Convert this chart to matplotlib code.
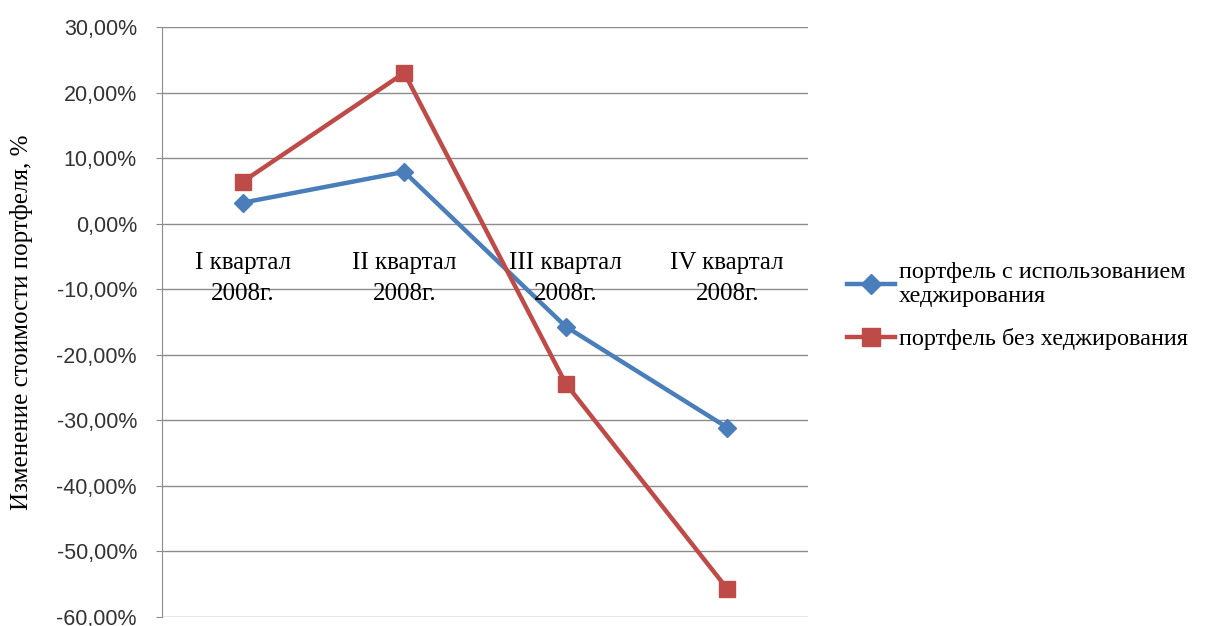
import matplotlib.pyplot as plt
from matplotlib.ticker import FuncFormatter

quarters = ["I квартал\n2008г.", "II квартал\n2008г.", "III квартал\n2008г.", "IV квартал\n2008г."]
hedged = [3.2, 7.9, -15.7, -31.1]
unhedged = [6.4, 23.0, -24.4, -55.7]
names = ["портфель с использованием\nхеджирования", "портфель без хеджирования"]

serif = "Liberation Serif"
sans = "Liberation Sans"

fig = plt.figure(figsize=(12.06, 6.26), dpi=100)
ax = fig.add_axes([0.1343, 0.0144, 0.5357, 0.9425])

x = list(range(len(quarters)))
ax.plot(x, hedged, color="#4A7EBB", lw=3.2, marker="D", ms=9, label=names[0])
ax.plot(x, unhedged, color="#BE4B48", lw=3.2, marker="s", ms=11, label=names[1])

ax.set_xlim(-0.5, 3.5)
ax.set_ylim(-60, 30)
ax.set_yticks(range(-60, 31, 10))
ax.yaxis.set_major_formatter(FuncFormatter(lambda v, p: f"{v:.2f}%".replace(".", ",")))
ax.grid(axis="y", color="#8c8c8c", lw=1)
ax.set_axisbelow(True)
ax.set_xticks([])
for s in ["top", "right", "bottom"]:
    ax.spines[s].set_visible(False)
ax.spines["left"].set_color("#8c8c8c")
ax.tick_params(axis="y", length=4, color="#8c8c8c", labelsize=15.5, pad=14)
for t in ax.get_yticklabels():
    t.set_fontfamily(sans)
    t.set_color("#333333")

for i, q in enumerate(quarters):
    ax.text(i, -4.4, q, ha="center", va="top", fontsize=18, family=serif,
            linespacing=1.5)

ax.set_ylabel("Изменение стоимости портфеля, %", fontsize=18, family=serif)
ax.yaxis.set_label_coords(-0.2, 0.5)

leg = fig.legend(loc="upper left", bbox_to_anchor=(0.684, 0.616), frameon=False,
                 prop={"family": serif, "size": 17.5}, handlelength=2.0, handletextpad=0.15,
                 labelspacing=0.85, markerscale=1.15)

fig.savefig("out.png", dpi=100)
